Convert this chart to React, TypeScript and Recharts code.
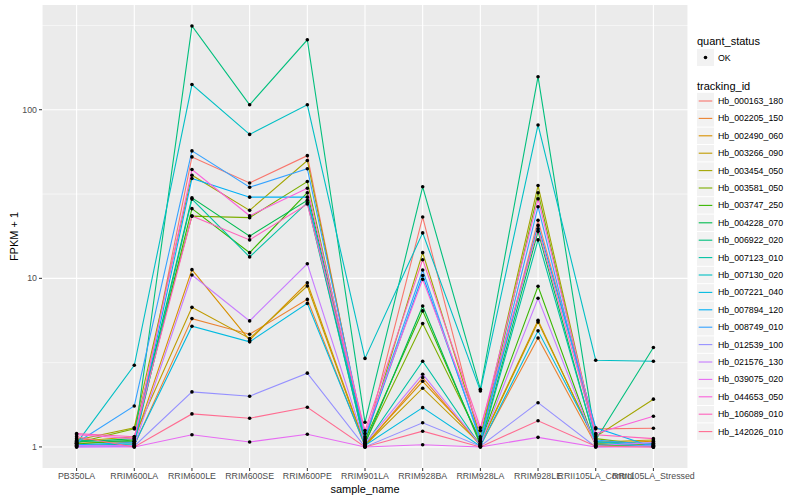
import React from 'react';
import { LineChart, Line, XAxis, YAxis, CartesianGrid } from 'recharts';

const samples = [
  'PB350LA', 'RRIM600LA', 'RRIM600LE', 'RRIM600SE', 'RRIM600PE', 'RRIM901LA',
  'RRIM928BA', 'RRIM928LA', 'RRIM928LE', 'RRII105LA_Control', 'RRII105LA_Stressed',
];

const trackingIds = [
  'Hb_000163_180', 'Hb_002205_150', 'Hb_002490_060', 'Hb_003266_090', 'Hb_003454_050',
  'Hb_003581_050', 'Hb_003747_250', 'Hb_004228_070', 'Hb_006922_020', 'Hb_007123_010',
  'Hb_007130_020', 'Hb_007221_040', 'Hb_007894_120', 'Hb_008749_010', 'Hb_012539_100',
  'Hb_021576_130', 'Hb_039075_020', 'Hb_044653_050', 'Hb_106089_010', 'Hb_142026_010',
];

// ggplot default hue palette, 20 levels
const lineColors = [
  '#F8766D', '#EA8331', '#D89000', '#C09B00', '#A3A500',
  '#7CAE00', '#39B600', '#00BB4E', '#00BF7D', '#00C1A3',
  '#00BFC4', '#00BAE0', '#00B0F6', '#35A2FF', '#9590FF',
  '#C77CFF', '#E76BF3', '#FA62DB', '#FF62BC', '#FF6C91',
];

// FPKM + 1, one value per sample
const hb000163 = [1.12, 1.05, 52.5, 36.8, 53.4, 1.05, 23.1, 1.08, 22.1, 1.28, 1.29];
const hb002205 = [1.03, 1.02, 5.77, 4.66, 7.5, 1.01, 2.58, 1.02, 4.43, 1.03, 1.04];
const hb002490 = [1.05, 1.08, 11.26, 4.3, 9.4, 1.03, 2.45, 1.05, 5.64, 1.05, 1.08];
const hb003266 = [1.08, 1.15, 6.73, 4.4, 9.0, 1.02, 2.23, 1.04, 5.5, 1.07, 1.1];
const hb003454 = [1.1, 1.3, 40.9, 25.3, 50, 1.08, 14.2, 1.15, 35.5, 1.15, 1.92];
const hb003581 = [1.06, 1.28, 23.4, 22.9, 37.5, 1.06, 5.39, 1.1, 32.2, 1.12, 1.02];
const hb003747 = [1.04, 1.1, 25.9, 14.2, 32.2, 1.1, 6.41, 1.06, 8.97, 1.02, 1.03];
const hb004228 = [1.07, 1.12, 30.0, 17.8, 29.0, 1.04, 6.85, 1.03, 19.0, 1.04, 1.01];
const hb006922 = [1.09, 1.08, 314, 107, 260, 1.4, 34.9, 2.2, 157, 1.1, 3.89];
const hb007123 = [1.02, 1.04, 29.5, 13.4, 28.1, 1.03, 3.22, 1.02, 16.9, 1.06, 1.05];
const hb007130 = [1.05, 3.05, 141, 71.4, 107, 3.35, 18.6, 2.15, 81.2, 3.27, 3.22];
const hb007221 = [1.01, 1.03, 5.2, 4.2, 7.1, 1.02, 1.71, 1.01, 4.88, 1.08, 1.0];
const hb007894 = [1.03, 1.06, 39.1, 30.3, 30.3, 1.12, 10.4, 1.12, 20.6, 1.3, 1.0];
const hb008749 = [1.06, 1.75, 57.0, 34.7, 44.7, 1.15, 11.2, 1.08, 26.6, 1.1, 1.03];
const hb012539 = [1.0, 1.01, 2.12, 2.0, 2.74, 1.0, 1.39, 1.01, 1.83, 1.0, 1.02];
const hb021576 = [1.02, 1.02, 10.46, 5.59, 12.2, 1.05, 2.7, 1.03, 7.62, 1.02, 1.06];
const hb039075 = [1.0, 1.0, 1.18, 1.07, 1.19, 1.0, 1.03, 1.0, 1.14, 1.0, 1.0];
const hb044653 = [1.18, 1.12, 44.2, 23.5, 34.2, 1.2, 9.86, 1.25, 29.6, 1.2, 1.52];
const hb106089 = [1.2, 1.15, 23.4, 16.9, 27.6, 1.25, 12.9, 1.3, 19.7, 1.18, 1.12];
const hb142026 = [1.15, 1.0, 1.57, 1.48, 1.72, 1.0, 1.24, 1.0, 1.43, 1.01, 1.0];

const seriesValues = [
  hb000163, hb002205, hb002490, hb003266, hb003454, hb003581, hb003747, hb004228, hb006922, hb007123,
  hb007130, hb007221, hb007894, hb008749, hb012539, hb021576, hb039075, hb044653, hb106089, hb142026,
];

const yTicks = [1, 10, 100];
const yMinor = [3.1623, 31.623, 316.23];

const chartData = samples.map((s, i) => {
  const row: any = { sample: s };
  trackingIds.forEach((id, k) => {
    row[id] = seriesValues[k][i];
  });
  return row;
});

const FONT = '"Liberation Sans", Arial, Helvetica, sans-serif';

const Legends = () => {
  const rowH = 17.4;
  const firstY = 101;
  return (
    <svg width={800} height={500} style={{ position: 'absolute', left: 0, top: 0, pointerEvents: 'none' }}>
      <text x={14} y={236.5} transform="rotate(-90 14 236.5)" textAnchor="middle" dominantBaseline="central"
        fontFamily={FONT} fontSize={11} fill="#000">FPKM + 1</text>
      <text x={365} y={489} textAnchor="middle" dominantBaseline="central"
        fontFamily={FONT} fontSize={11} fill="#000">sample_name</text>

      <text x={697} y={41} dominantBaseline="central" fontFamily={FONT} fontSize={11} fill="#000">quant_status</text>
      <rect x={697} y={49} width={17} height={17} fill="#F2F2F2" />
      <circle cx={705.5} cy={57.5} r={1.8} fill="#000" />
      <text x={718} y={57.5} dominantBaseline="central" fontFamily={FONT} fontSize={8.8} fill="#000">OK</text>

      <text x={697} y={86} dominantBaseline="central" fontFamily={FONT} fontSize={11} fill="#000">tracking_id</text>
      {trackingIds.map((id, k) => {
        const cy = firstY + k * rowH;
        return (
          <g key={id}>
            <rect x={697} y={cy - 8.2} width={17} height={16.4} fill="#F2F2F2" />
            <line x1={698.7} x2={712.3} y1={cy} y2={cy} stroke={lineColors[k]} strokeWidth={1.1} />
            <text x={718} y={cy} dominantBaseline="central" fontFamily={FONT} fontSize={8.8} fill="#000">{id}</text>
          </g>
        );
      })}
    </svg>
  );
};

export default function App() {
  return (
    <div style={{ position: 'absolute', left: 0, top: 0, width: 800, height: 500, background: '#fff', fontFamily: FONT }}>
      <LineChart width={800} height={500} data={chartData} margin={{ top: 5, right: 112, bottom: 10, left: 12 }}>
        <CartesianGrid fill="#EBEBEB" stroke="#FFFFFF" strokeWidth={0.55} vertical={false} horizontalValues={yMinor} />
        <CartesianGrid stroke="#FFFFFF" strokeWidth={1.1} horizontalValues={yTicks} />
        <XAxis
          dataKey="sample"
          interval={0}
          padding={{ left: 34.6, right: 34.6 }}
          axisLine={false}
          tickSize={3}
          tickLine={{ stroke: '#333333' }}
          tick={{ fill: '#4D4D4D', fontSize: 8.8, fontFamily: FONT }}
          height={22}
        />
        <YAxis
          scale="log"
          domain={[0.75, 418]}
          allowDataOverflow
          ticks={yTicks}
          axisLine={false}
          tickSize={3}
          tickLine={{ stroke: '#333333' }}
          tick={{ fill: '#4D4D4D', fontSize: 8.8, fontFamily: FONT }}
          width={30}
        />
        {trackingIds.map((id, k) => (
          <Line
            key={id}
            type="linear"
            dataKey={id}
            stroke={lineColors[k]}
            strokeWidth={1.1}
            dot={false}
            activeDot={false}
            isAnimationActive={false}
          />
        ))}
        {trackingIds.map((id) => (
          <Line
            key={id + '-pt'}
            type="linear"
            dataKey={id}
            stroke="none"
            dot={{ r: 1.8, fill: '#000', stroke: 'none' }}
            activeDot={false}
            legendType="none"
            isAnimationActive={false}
          />
        ))}
      </LineChart>
      <Legends />
    </div>
  );
}
